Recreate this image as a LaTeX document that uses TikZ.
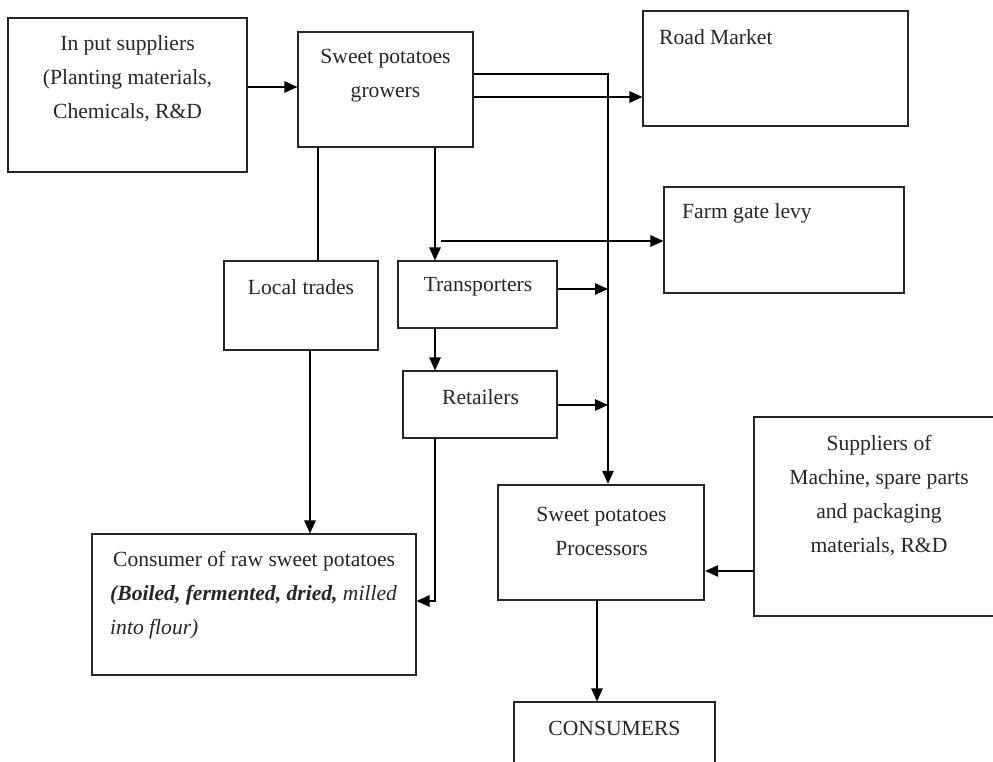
\documentclass[tikz,border=0pt]{standalone}
\usepackage{fontspec}
\setmainfont{Liberation Serif}
\usetikzlibrary{arrows.meta}
\begin{document}
\begin{tikzpicture}[x=1pt,y=-1pt,
  box/.style={draw=black!85, line width=1.2pt, rectangle, inner sep=0pt},
  thickbox/.style={box, line width=2.4pt},
  txt/.style={inner sep=0pt, align=center, text=black!85, font=\fontsize{21.6}{34}\selectfont},
  conn/.style={draw=black, line width=1.3pt},
  arr/.style={conn, -{Triangle[length=13pt,width=11.5pt]}}]
\useasboundingbox (0,0) rectangle (993,762);
% boxes
\node[box, minimum width=239, minimum height=154] (inp) at (127.5,95) {};
\node[box, minimum width=175, minimum height=115] (grow) at (385.5,89.5) {};
\node[box, minimum width=265, minimum height=115] (road) at (775.5,68.5) {};
\node[box, minimum width=240, minimum height=106] (farm) at (784,240) {};
\node[box, minimum width=154, minimum height=89] (local) at (301,305.5) {};
\node[box, minimum width=159, minimum height=67] (trans) at (477.5,294.5) {};
\node[box, minimum width=154, minimum height=67] (retail) at (480,404.5) {};
\node[box, minimum width=324, minimum height=141] (raw) at (254,604.5) {};
\node[thickbox, minimum width=206, minimum height=115] (proc) at (601,542.5) {};
\node[box, minimum width=250, minimum height=199] (supp) at (879,516.5) {};
\node[box, minimum width=201, minimum height=88] (cons) at (614.5,746) {};
% texts
\node[txt] (inpT) at (127.5,79) {In put suppliers\\(Planting materials,\\Chemicals, R\&D};
\node[txt] (growT) at (385.5,76) {Sweet potatoes\\growers};
\node[txt, anchor=west] (roadT) at (659,37) {Road Market};
\node[txt, anchor=west] (farmT) at (682,213) {Farm gate levy};
\node[txt] (localT) at (301,287) {Local trades};
\node[txt] (transT) at (478,287) {Transporters};
\node[txt] (retailT) at (480.5,397) {Retailers};
\node[txt, anchor=west, align=left] (rawT) at (110,595.5) {\hspace{3pt}Consumer of raw sweet potatoes\\\textbf{\textit{(Boiled, fermented, dried,}} \textit{milled}\\\textit{into flour)}};
\node[txt] (procT) at (601.5,531.5) {Sweet potatoes\\Processors};
\node[txt] (suppT) at (879,495.5) {Suppliers of\\Machine, spare parts\\and packaging\\materials, R\&D};
\node[txt] (consT) at (614.5,728) {CONSUMERS};
% connectors
\coordinate (bus) at (608,74);
\coordinate (levy) at (441,241);
\draw[arr] (inp.east |- 0,87) -- (grow.west |- 0,87);
\draw[arr] (grow.east |- bus) -- (bus) -- (bus |- proc.north);
\draw[arr] (grow.east |- 0,97) -- (road.west |- 0,97);
\draw[conn] (318,0 |- grow.south) -- (318,0 |- local.north);
\draw[arr] (435,0 |- grow.south) -- (435,0 |- trans.north);
\draw[arr] (levy) -- (farm.west |- levy);
\draw[arr] (trans.east |- 0,289) -- (bus |- 0,289);
\draw[arr] (435,0 |- trans.south) -- (435,0 |- retail.north);
\draw[arr] (retail.east |- 0,405) -- (bus |- 0,405);
\draw[arr] (435,0 |- retail.south) -- (435,601) -- (raw.east |- 0,601);
\draw[arr] (310,0 |- local.south) -- (310,0 |- raw.north);
\draw[arr] (supp.west |- 0,571) -- (proc.east |- 0,571);
\draw[arr] (597,0 |- proc.south) -- (597,0 |- cons.north);
\end{tikzpicture}
\end{document}
